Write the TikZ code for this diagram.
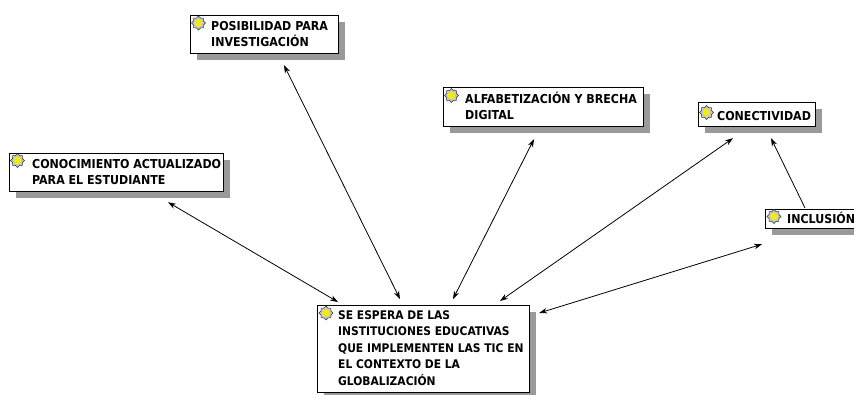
\documentclass[tikz,border=0pt]{standalone}
\usepackage{fontspec}
\newfontfamily\boxfont{DejaVu Sans Condensed Bold}
\usetikzlibrary{arrows.meta,shadows,shapes.geometric}
\definecolor{shadowgray}{HTML}{9A9A9A}
\definecolor{iconyellow}{HTML}{F0EC10}
\newcommand{\topstrut}{\rule{0pt}{11pt}}
\begin{document}
\begin{tikzpicture}[x=1pt,y=-1pt,
  box/.style={draw=black, line width=1.2pt, fill=white, anchor=north west, inner sep=0pt,
    drop shadow={shadow xshift=6pt, shadow yshift=-6pt, fill=shadowgray, opacity=1}},
  txt/.style={anchor=north west, inner sep=0pt, align=left,
    font=\boxfont\fontsize{12.3}{16}\selectfont},
  icon/.style={star, star points=8, star point ratio=1.3, fill=gray!45, draw=black!80,
    line width=0.5pt, minimum size=14pt, inner sep=0pt,
    path picture={\fill[iconyellow] (path picture bounding box.center) circle (3.8pt);}},
  link/.style={line width=0.8pt, {Stealth[length=8pt,width=5.5pt]}-{Stealth[length=8pt,width=5.5pt]}},
  onelink/.style={line width=0.8pt, -{Stealth[length=8pt,width=5.5pt]}}]
\fill[white] (0,0) rectangle (854,394);
\useasboundingbox (0,0) rectangle (854,394);

% boxes
\node[box, minimum width=148pt, minimum height=38pt] (P) at (190,15) {};
\node[box, minimum width=214pt, minimum height=38pt] (C) at (9,153) {};
\node[box, minimum width=200pt, minimum height=39pt] (A) at (443,87) {};
\node[box, minimum width=117pt, minimum height=24pt] (K) at (698,102) {};
\node[box, minimum width=100pt, minimum height=19pt] (I) at (765,209) {};
\node[box, minimum width=212pt, minimum height=87pt] (M) at (317,305) {};

% icons
\node[icon] (Pi) at (198.5,23) {};
\node[icon] (Ci) at (17.5,160.5) {};
\node[icon] (Ai) at (451.5,95.5) {};
\node[icon] (Ki) at (706.5,112.5) {};
\node[icon] (Ii) at (774,216.5) {};
\node[icon] (Mi) at (326,313) {};

% texts
\node[txt] (Pt) at (211,19.5) {\topstrut POSIBILIDAD PARA\\INVESTIGACIÓN};
\node[txt] (Ct) at (32,157) {\topstrut CONOCIMIENTO ACTUALIZADO\\PARA EL ESTUDIANTE};
\node[txt] (At) at (465,92) {\topstrut ALFABETIZACIÓN Y BRECHA\\DIGITAL};
\node[txt] (Kt) at (717,109) {\topstrut CONECTIVIDAD};
\node[txt] (It) at (787,212) {\topstrut INCLUSIÓN};
\node[txt, font=\boxfont\fontsize{11.9}{16.5}\selectfont] (Mt) at (338,308)
  {\topstrut SE ESPERA DE LAS\\INSTITUCIONES EDUCATIVAS\\QUE IMPLEMENTEN LAS TIC EN\\EL CONTEXTO DE LA\\GLOBALIZACIÓN};

% connectors
\draw[link] ([shift={(159,10)}]C.south west) -- ([shift={(21,-3)}]M.north west);
\draw[link] ([shift={(94,11)}]P.south west) -- ([shift={(83,-6)}]M.north west);
\draw[link] ([shift={(91,12)}]A.south west) -- ([shift={(136,-6)}]M.north west);
\draw[link] ([shift={(35,11)}]K.south west) -- ([shift={(183,-4)}]M.north west);
\draw[onelink] ([shift={(40,-1)}]I.north west) -- ([shift={(73,11)}]K.south west);
\draw[link] ([shift={(-3,15)}]I.south west) -- ([shift={(9,8)}]M.north east);
\end{tikzpicture}
\end{document}
